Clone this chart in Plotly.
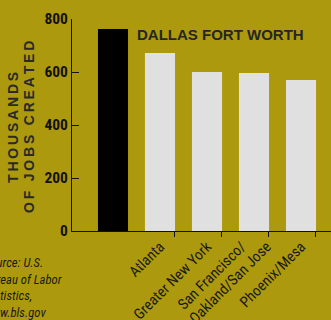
import plotly.graph_objects as go

cities = ["Dallas Fort Worth", "Atlanta", "Greater New York",
          "San Francisco/Oakland/San Jose", "Phoenix/Mesa"]
label_lines = [[], ["Atlanta"], ["Greater New York"],
               ["San Francisco/", "Oakland/San Jose"], ["Phoenix/Mesa"]]
jobs = [762, 672, 600, 596, 570]
bar_colors = ["#000000", "#E0E0E0", "#E0E0E0", "#E0E0E0", "#E0E0E0"]
y_ticks = [0, 200, 400, 600, 800]
highlight_label = "DALLAS FORT WORTH"
y_title_lines = ["THOUSANDS", "OF JOBS CREATED"]
source_text = "Source: U.S.<br>Bureau of Labor<br>Statistics,<br>www.bls.gov"

BG = "#AD990E"
COND = "Roboto Condensed, Liberation Sans, sans-serif"
idx = list(range(len(cities)))

# label positions: single-line labels sit at the category; two-line labels are
# split so each line sits slightly left / right of the category centre
lab_vals, lab_text = [], []
for i, lines in zip(idx, label_lines):
    if len(lines) == 1:
        lab_vals.append(i)
        lab_text.append(lines[0])
    elif len(lines) == 2:
        lab_vals += [i - 0.27, i + 0.27]
        lab_text += lines

def spaced(s):
    return "\u2009".join(list(s))

fig = go.Figure()
fig.add_trace(go.Bar(x=idx, y=jobs, marker=dict(color=bar_colors, line=dict(width=0)),
                     width=0.64, showlegend=False, hoverinfo="skip"))
# invisible trace for the tick-mark overlay axis
fig.add_trace(go.Scatter(x=[idx[1]], y=[0], xaxis="x2", mode="markers",
                         marker=dict(opacity=0), showlegend=False, hoverinfo="skip"))

xr = [-0.872, 4.638]
fig.update_layout(
    width=331, height=320,
    margin=dict(l=72, r=0, t=19, b=89),
    paper_bgcolor=BG, plot_bgcolor=BG,
    xaxis=dict(range=xr, tickmode="array", tickvals=lab_vals, ticktext=lab_text,
               tickangle=-45, ticks="", showgrid=False, zeroline=False, automargin=False,
               showline=True, linecolor="#111111", linewidth=1,
               tickfont=dict(family=COND, size=15, color="#1a1a1a")),
    xaxis2=dict(range=xr, overlaying="x", side="bottom", tickmode="array",
                tickvals=[i + 0.3 for i in idx[1:]], showticklabels=False,
                ticks="outside", ticklen=5, tickwidth=1, tickcolor="#111111",
                showgrid=False, zeroline=False, showline=False, automargin=False),
    yaxis=dict(range=[0, 800], tickmode="array", tickvals=y_ticks, automargin=False,
               ticks="inside", ticklen=7, tickwidth=1, tickcolor="#111111",
               showgrid=False, zeroline=False, showline=True, linecolor="#111111",
               linewidth=1,
               tickfont=dict(family=COND, size=15.5, color="#111111", weight="bold")),
    bargap=0.36,
)

fig.add_annotation(x=0.47, y=741, xref="x", yref="y", text=highlight_label,
                   showarrow=False, xanchor="left", yanchor="middle",
                   font=dict(family="Liberation Sans", size=15, color="#262626",
                             weight="bold"))

for xp, line in zip([-0.228, -0.166], y_title_lines):
    fig.add_annotation(x=xp, y=0.4906, xref="paper", yref="paper", text=spaced(line),
                       showarrow=False, textangle=-90, xanchor="center", yanchor="middle",
                       font=dict(family="Liberation Sans", size=14, color="#2a2a2a",
                                 weight="bold"))

fig.add_annotation(x=-0.3475, y=-0.104, xref="paper", yref="paper", text=source_text,
                   showarrow=False, xanchor="left", yanchor="top", align="left",
                   font=dict(family=COND, size=12.7, color="#1a1a1a", style="italic"))

fig.write_html("out.html")
